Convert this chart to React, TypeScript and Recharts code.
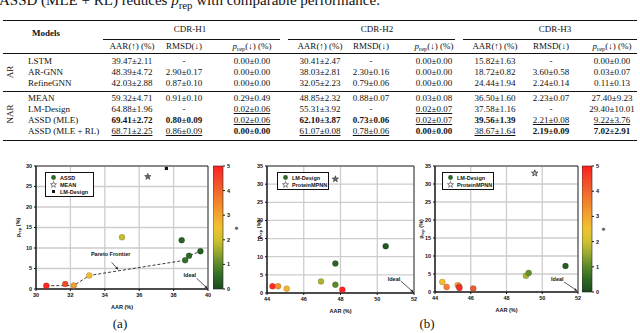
import React from 'react'
import {
  ScatterChart, Scatter, XAxis, YAxis, CartesianGrid, ReferenceArea, ReferenceLine,
  BarChart, Bar, Label,
} from 'recharts'

const SERIF = '"Liberation Serif", "Times New Roman", serif'
const SANS = '"Liberation Sans", Arial, sans-serif'

// ---------- table data ----------
const cdrGroups = ['CDR-H1', 'CDR-H2', 'CDR-H3']
const arModels = ['LSTM', 'AR-GNN', 'RefineGNN']
const narModels = ['MEAN', 'LM-Design', 'ASSD (MLE)', 'ASSD (MLE + RL)']
const arValues = [
  ['39.47±2.11', '-', '0.00±0.00', '30.41±2.47', '-', '0.00±0.00', '15.82±1.63', '-', '0.00±0.00'],
  ['48.39±4.72', '2.90±0.17', '0.00±0.00', '38.03±2.81', '2.30±0.16', '0.00±0.00', '18.72±0.82', '3.60±0.58', '0.03±0.07'],
  ['42.03±2.88', '0.87±0.10', '0.00±0.00', '32.05±2.23', '0.79±0.06', '0.00±0.00', '24.44±1.94', '2.24±0.14', '0.11±0.13'],
]
const narValues = [
  ['59.32±4.71', '0.91±0.10', '0.29±0.49', '48.85±2.32', '0.88±0.07', '0.03±0.08', '36.50±1.60', '2.23±0.07', '27.40±9.23'],
  ['64.88±1.96', '-', '0.02±0.06', '55.31±3.92', '-', '0.02±0.07', '37.58±1.16', '-', '29.40±10.01'],
  ['69.41±2.72', '0.80±0.09', '0.02±0.06', '62.10±3.87', '0.73±0.06', '0.02±0.07', '39.56±1.39', '2.21±0.08', '9.22±3.76'],
  ['68.71±2.25', '0.86±0.09', '0.00±0.00', '61.07±0.08', '0.78±0.06', '0.00±0.00', '38.67±1.64', '2.19±0.09', '7.02±2.91'],
]
// b = best (bold), u = second best (underlined)
const narRanks = [
  ['', '', '', '', '', '', '', '', ''],
  ['', '', 'u', '', '', 'u', '', '', ''],
  ['b', 'b', 'u', 'b', 'b', 'u', 'b', 'u', 'u'],
  ['u', 'u', 'b', 'u', 'u', 'b', 'u', 'b', 'b'],
]

// ---------- panel (a): CDR-H3 trade-off ----------
const assdAar = [30.6, 31.7, 32.2, 33.1, 35.0, 38.47, 38.67, 38.9, 39.56]
const assdPrep = [0.8, 1.2, 0.85, 3.3, 12.6, 11.9, 7.02, 8.1, 9.22]
const assdE = [4.9, 4.4, 3.1, 2.6, 1.9, 0.4, 0.6, 0.5, 0.3]
const paretoAar = [30.6, 32.2, 33.1, 38.67, 38.9, 39.56]
const paretoPrep = [0.8, 0.85, 3.3, 7.02, 8.1, 9.22]
const meanA = [{ aar: 36.5, prep: 27.4 }]
const lmDesignA = [{ aar: 37.58, prep: 29.4 }]

// ---------- panel (b), left ----------
const lmB1Aar = [44.3, 44.6, 45.07, 46.94, 47.72, 47.72, 48.1, 50.46]
const lmB1Prep = [1.85, 1.85, 1.2, 3.2, 2.3, 8.1, 0.9, 12.9]
const lmB1E = [4.8, 3.3, 2.7, 1.7, 1.0, 0.4, 4.9, 0.2]
const mpnnB1 = [{ aar: 47.72, prep: 31.4 }]

// ---------- panel (b), right ----------
const lmB2Aar = [44.41, 44.65, 45.27, 45.35, 45.37, 46.14, 49.09, 49.24, 51.3]
const lmB2Prep = [2.8, 1.4, 1.9, 1.5, 1.1, 1.0, 4.5, 5.3, 7.2]
const lmB2E = [2.6, 3.6, 2.9, 4.2, 4.8, 4.2, 1.7, 1.1, 0.3]
const mpnnB2 = [{ aar: 49.58, prep: 33.0 }]

const ticksA = [30, 32, 34, 36, 38, 40]
const ticksAY = [0, 5, 10, 15, 20, 25, 30]
const ticksB = [44, 46, 48, 50, 52]
const ticksBY = [0, 5, 10, 15, 20, 25, 30, 35]
const cbTicks = [0, 1, 2, 3, 4, 5]

const zip = (xs: number[], ys: number[], es?: number[]) =>
  xs.map((x, i) => ({ aar: x, prep: ys[i], e: es ? es[i] : 0 }))

// colour map of the e colour bar
const cmap: [number, string][] = [
  [0, '#1c4a1c'], [0.5, '#2e6827'], [1, '#5a882b'], [1.5, '#97a82f'], [2, '#d0c131'],
  [2.5, '#f0c232'], [3, '#f3a52f'], [3.5, '#f2872d'], [4, '#f1662b'], [4.5, '#f4442a'], [5, '#ff1f1f'],
]
const hex = (c: string) => [1, 3, 5].map(i => parseInt(c.slice(i, i + 2), 16))
const eColor = (e: number) => {
  for (let i = 1; i < cmap.length; i++) {
    if (e <= cmap[i][0]) {
      const [e0, c0] = cmap[i - 1]
      const [e1, c1] = cmap[i]
      const t = (e - e0) / (e1 - e0)
      const a = hex(c0), b = hex(c1)
      return `rgb(${a.map((v, k) => Math.round(v + (b[k] - v) * t)).join(',')})`
    }
  }
  return cmap[cmap.length - 1][1]
}

const tickStyle = { fontSize: 5.5, fill: '#111', fontFamily: SANS, fontWeight: 700 }

const Dot = (p: any) => {
  if (p.cx == null) return <g />
  return <circle cx={p.cx} cy={p.cy} r={3} fill={eColor(p.payload.e)} stroke="rgba(0,0,0,0.3)" strokeWidth={0.5} />
}
const starPts = (cx: number, cy: number, ro: number, ri: number) =>
  Array.from({ length: 10 }, (_, i) => {
    const r = i % 2 ? ri : ro
    const a = -Math.PI / 2 + (i * Math.PI) / 5
    return `${cx + r * Math.cos(a)},${cy + r * Math.sin(a)}`
  }).join(' ')
const Star = (p: any) => (p.cx == null ? <g /> :
  <polygon points={starPts(p.cx, p.cy, 3.4, 1.4)} fill="#666" stroke="#222" strokeWidth={0.5} />)
const StarOpen = (p: any) => (p.cx == null ? <g /> :
  <polygon points={starPts(p.cx, p.cy, 3.4, 1.4)} fill="#bbb" stroke="#222" strokeWidth={0.7} />)
const Square = (p: any) => (p.cx == null ? <g /> :
  <rect x={p.cx - 1.6} y={p.cy - 1.6} width={3.2} height={3.2} fill="#111" />)
const NoShape = () => <g />

const arrowShape = (text: string, tx: number, ty: number, anchor: string) => (p: any) => {
  const { x1, y1, x2, y2 } = p
  const a = Math.atan2(y2 - y1, x2 - x1)
  const hx = x2 - 3 * Math.cos(a), hy = y2 - 3 * Math.sin(a)
  const w = 1.3
  return (
    <g>
      <line x1={x1} y1={y1} x2={hx} y2={hy} stroke="#111" strokeWidth={0.7} />
      <polygon points={`${x2},${y2} ${hx - w * Math.sin(a)},${hy + w * Math.cos(a)} ${hx + w * Math.sin(a)},${hy - w * Math.cos(a)}`} fill="#111" />
      <text x={x1 + tx} y={y1 + ty} textAnchor={anchor} style={tickStyle}>{text}</text>
    </g>
  )
}

const PrepLabel = ({ x, viewBox }: any) => {
  const cy = viewBox.y + viewBox.height / 2
  return (
    <text transform={`translate(${x},${cy}) rotate(-90)`} textAnchor="middle" style={tickStyle}>
      <tspan>p</tspan><tspan fontSize={4} dy={1.4}>rep</tspan><tspan dy={-1.4}> (%)</tspan>
    </text>
  )
}

function Legend({ left, top, width, items }: any) {
  return (
    <div style={{
      position: 'absolute', left, top, width, border: '0.8px solid #111', background: '#fff',
      padding: '1px 0 1px 4px', boxSizing: 'border-box',
    }}>
      {items.map((it: any) => (
        <div key={it.label} style={{ display: 'flex', alignItems: 'center', height: 7, fontFamily: SANS, fontSize: 5.5, fontWeight: 700, color: '#111' }}>
          <svg width={8} height={7} style={{ marginRight: 2 }}>
            {it.kind === 'dot' && <circle cx={3.5} cy={3.5} r={2.4} fill="#2e6827" />}
            {it.kind === 'star' && <polygon points={starPts(3.5, 3.7, 3.2, 1.3)} fill="#fff" stroke="#333" strokeWidth={0.6} />}
            {it.kind === 'square' && <rect x={2} y={2} width={3} height={3} fill="#111" />}
          </svg>
          {it.label}
        </div>
      ))}
    </div>
  )
}

function Panel(props: any) {
  const { left, top, width, height, margin, yWidth, xDomain, xTicks, yDomain, yTicks, yLabelX, children } = props
  return (
    <div style={{ position: 'absolute', left, top }}>
      <ScatterChart width={width} height={height} margin={margin}>
        <CartesianGrid stroke="#cdcdcd" strokeWidth={1.3} />
        <XAxis type="number" dataKey="aar" domain={xDomain} ticks={xTicks} interval={0} height={20}
          tick={tickStyle} tickSize={2} tickMargin={2} axisLine={{ stroke: '#111' }} tickLine={{ stroke: '#111' }}
          allowDataOverflow
          label={{ value: 'AAR (%)', position: 'insideBottom', offset: 0, style: tickStyle }} />
        <YAxis type="number" dataKey="prep" domain={yDomain} ticks={yTicks} interval={0} width={yWidth}
          tick={tickStyle} tickSize={2} tickMargin={2} axisLine={{ stroke: '#111' }} tickLine={{ stroke: '#111' }}
          allowDataOverflow>
          <Label content={(lp: any) => <PrepLabel x={yLabelX} viewBox={lp.viewBox} />} />
        </YAxis>
        <ReferenceArea x1={xDomain[0]} x2={xDomain[1]} y1={yDomain[0]} y2={yDomain[1]}
          fill="none" fillOpacity={0} stroke="#111" strokeWidth={0.8} />
        {children}
      </ScatterChart>
    </div>
  )
}

function ColorBar({ left, top, height, bottom, id }: any) {
  return (
    <div style={{ position: 'absolute', left, top }}>
      <BarChart width={32} height={height} data={[{ name: 'e', v: 5 }]} barCategoryGap={0}
        margin={{ top: 16, right: 0, bottom, left: 0 }}>
        <defs>
          <linearGradient id={id} x1="0" y1="1" x2="0" y2="0">
            {cmap.map(([e, c]) => <stop key={e} offset={e / 5} stopColor={c} />)}
          </linearGradient>
        </defs>
        <XAxis dataKey="name" hide />
        <YAxis orientation="right" type="number" domain={[0, 5]} ticks={cbTicks} interval={0} width={22}
          tick={tickStyle} tickSize={2} tickMargin={2} axisLine={false} tickLine={{ stroke: '#111' }} />
        <Bar dataKey="v" fill={`url(#${id})`} stroke="#222" strokeWidth={0.6} isAnimationActive={false} />
      </BarChart>
    </div>
  )
}

const abs = (left: number, top: number, extra: any = {}) => ({ position: 'absolute' as const, left, top, ...extra })

export default function App() {
  const colX = [132, 184, 252, 320, 371, 434, 495, 551, 612]
  const groupX = [190, 377, 555]
  const groupSpan = [[103, 280], [288, 455], [463, 637]]
  const arY = [61, 72, 83]
  const narY = [98, 109, 120, 131]
  const cell = (x: number, y: number, content: any, extra: any = {}) => (
    <div style={abs(x, y, { transform: 'translate(-50%,-50%)', whiteSpace: 'nowrap', lineHeight: '10px', ...extra })}>{content}</div>
  )
  const rule = (y: number, x0: number, x1: number, h: number) =>
    <div style={abs(x0, y, { width: x1 - x0, height: h, background: '#111' })} />
  const sub = (t: string) => <span style={{ fontSize: '0.72em', position: 'relative', top: '0.35em' }}>{t}</span>
  const prepHead = <span><i>p</i>{sub('rep')}(↓) (%)</span>
  const subHeads = ['AAR(↑) (%)', 'RMSD(↓)', prepHead]

  const assd = zip(assdAar, assdPrep, assdE)
  const pareto = zip(paretoAar, paretoPrep)
  const lmB1 = zip(lmB1Aar, lmB1Prep, lmB1E)
  const lmB2 = zip(lmB2Aar, lmB2Prep, lmB2E)

  return (
    <div style={{ position: 'absolute', left: 0, top: 0, width: 640, height: 333, overflow: 'hidden', background: '#fff', fontFamily: SERIF, fontSize: 9, color: '#111' }}>
      <div style={abs(-1, -7, { fontSize: 15, lineHeight: '15px', whiteSpace: 'nowrap' })}>
        ASSD (MLE + RL) reduces <i>p</i>{sub('rep')} with comparable performance.
      </div>

      {rule(19.5, 3, 637, 1.2)}
      {cell(46, 33, <b>Models</b>)}
      {cdrGroups.map((g, i) => cell(groupX[i], 29, g))}
      {groupSpan.map(([a, b], i) => <React.Fragment key={i}>{rule(38.5, a, b, 0.6)}</React.Fragment>)}
      {colX.map((x, i) => <React.Fragment key={i}>{cell(x, 45.5, subHeads[i % 3])}</React.Fragment>)}
      {rule(52.5, 3, 637, 0.7)}

      {cell(10, 72, 'AR', { transform: 'translate(-50%,-50%) rotate(-90deg)' })}
      {arModels.map((m, r) => (
        <React.Fragment key={m}>
          <div style={abs(28, arY[r], { transform: 'translateY(-50%)', lineHeight: '10px', whiteSpace: 'nowrap' })}>{m}</div>
          {arValues[r].map((v, c) => <React.Fragment key={c}>{cell(colX[c], arY[r], v)}</React.Fragment>)}
        </React.Fragment>
      ))}
      {rule(91, 3, 637, 0.7)}

      {cell(10, 114, 'NAR', { transform: 'translate(-50%,-50%) rotate(-90deg)' })}
      {narModels.map((m, r) => (
        <React.Fragment key={m}>
          <div style={abs(28, narY[r], { transform: 'translateY(-50%)', lineHeight: '10px', whiteSpace: 'nowrap' })}>{m}</div>
          {narValues[r].map((v, c) => {
            const k = narRanks[r][c]
            return <React.Fragment key={c}>{cell(colX[c], narY[r], v, {
              fontWeight: k === 'b' ? 700 : 400,
              textDecoration: k === 'u' ? 'underline' : 'none',
              textDecorationThickness: '0.6px', textUnderlineOffset: '1px',
            })}</React.Fragment>
          })}
        </React.Fragment>
      ))}
      {rule(140, 3, 637, 1.2)}

      {/* (a) */}
      <Panel left={0} top={150} width={240} height={183} margin={{ top: 16, right: 32, bottom: 24, left: 0 }}
        yWidth={36} xDomain={[30, 40]} xTicks={ticksA} yDomain={[0, 30]} yTicks={ticksAY} yLabelX={20}>
        <Scatter data={pareto} line={{ stroke: '#222', strokeWidth: 0.9, strokeDasharray: '3 2' }} shape={NoShape} isAnimationActive={false} />
        <Scatter data={assd} shape={Dot} isAnimationActive={false} />
        <Scatter data={meanA} shape={Star} isAnimationActive={false} />
        <Scatter data={lmDesignA} shape={Square} isAnimationActive={false} />
        <ReferenceLine segment={[{ x: 34.4, y: 6.5 }, { x: 34.78, y: 4.7 }]} ifOverflow="visible"
          shape={arrowShape('Pareto Frontier', -1, -6.5, 'middle')} />
        <ReferenceLine segment={[{ x: 39.34, y: 2.6 }, { x: 39.97, y: 0.15 }]} ifOverflow="visible"
          shape={arrowShape('Ideal', -0.5, -1, 'end')} />
      </Panel>
      <ColorBar left={213} top={150} height={183} bottom={44} id="cbA" />
      <div style={abs(236, 228, { transform: 'translate(-50%,-50%) rotate(-90deg)', fontFamily: SANS, fontSize: 6, fontWeight: 700 })}>e</div>
      <Legend left={45} top={172} width={49} items={[
        { kind: 'dot', label: 'ASSD' }, { kind: 'star', label: 'MEAN' }, { kind: 'square', label: 'LM-Design' },
      ]} />

      {/* (b) left */}
      <Panel left={220} top={150} width={215} height={183} margin={{ top: 16, right: 21, bottom: 20, left: 0 }}
        yWidth={47} xDomain={[44, 52]} xTicks={ticksB} yDomain={[0, 35]} yTicks={ticksBY} yLabelX={40.7}>
        <Scatter data={lmB1} shape={Dot} isAnimationActive={false} />
        <Scatter data={mpnnB1} shape={Star} isAnimationActive={false} />
        <ReferenceLine segment={[{ x: 51.28, y: 3.3 }, { x: 51.97, y: 0.2 }]} ifOverflow="visible"
          shape={arrowShape('Ideal', -0.5, -0.5, 'end')} />
      </Panel>
      <Legend left={277} top={172} width={52} items={[
        { kind: 'dot', label: 'LM-Design' }, { kind: 'star', label: 'ProteinMPNN' },
      ]} />

      {/* (b) right */}
      <Panel left={400} top={150} width={182} height={183} margin={{ top: 16, right: 4, bottom: 21, left: 0 }}
        yWidth={35} xDomain={[44, 52]} xTicks={ticksB} yDomain={[0, 35]} yTicks={ticksBY} yLabelX={23}>
        <Scatter data={lmB2} shape={Dot} isAnimationActive={false} />
        <Scatter data={mpnnB2} shape={StarOpen} isAnimationActive={false} />
        <ReferenceLine segment={[{ x: 51.22, y: 2.8 }, { x: 51.96, y: 0.3 }]} ifOverflow="visible"
          shape={arrowShape('Ideal', -0.5, -0.5, 'end')} />
      </Panel>
      <ColorBar left={582} top={150} height={183} bottom={41} id="cbB" />
      <div style={abs(603, 229, { transform: 'translate(-50%,-50%) rotate(-90deg)', fontFamily: SANS, fontSize: 6, fontWeight: 700 })}>e</div>
      <Legend left={442} top={172} width={52} items={[
        { kind: 'dot', label: 'LM-Design' }, { kind: 'star', label: 'ProteinMPNN' },
      ]} />

      <div style={abs(120, 324, { transform: 'translate(-50%,-50%)', fontSize: 13 })}>(a)</div>
      <div style={abs(427, 324, { transform: 'translate(-50%,-50%)', fontSize: 13 })}>(b)</div>
    </div>
  )
}
